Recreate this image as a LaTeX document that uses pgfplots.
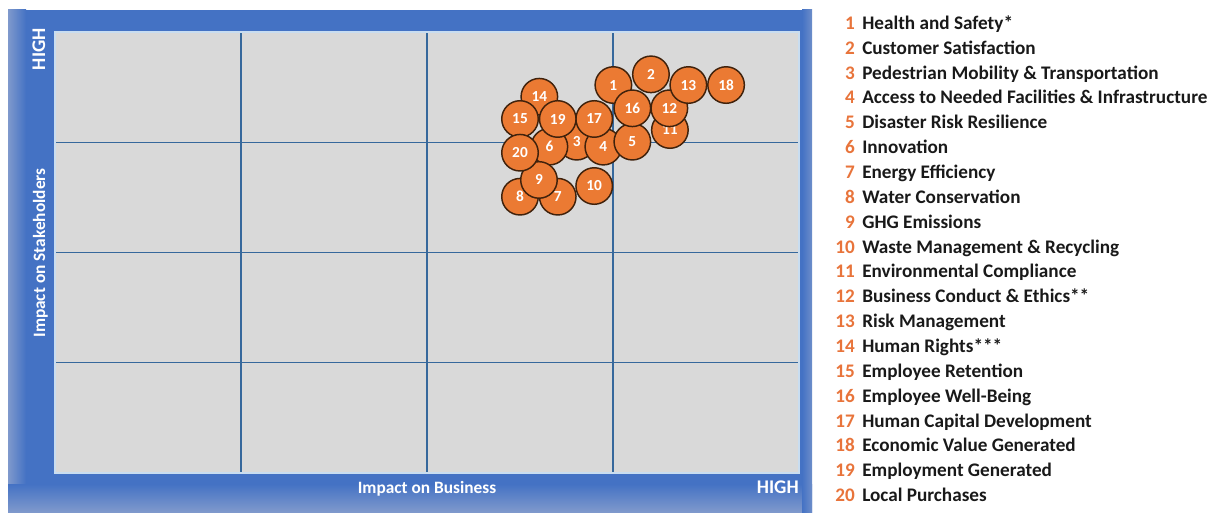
\documentclass[border=0pt]{standalone}
\usepackage{pgfplots}
\pgfplotsset{compat=1.18}
\usepackage{fontspec}
\setmainfont{Carlito}
\definecolor{frameblue}{HTML}{4472C4}
\definecolor{framelight}{HTML}{7F99CC}
\definecolor{plotgray}{HTML}{D9D9D9}
\definecolor{gridblue}{HTML}{36689C}
\definecolor{bubble}{HTML}{EB7A33}
\definecolor{bubbleedge}{HTML}{40220C}
\definecolor{numorange}{HTML}{E8743B}
\definecolor{edgelight}{HTML}{C9DDF0}

\pgfplotstableread{
x y label
3.002 3.519 1
3.204 3.616 2
2.805 3.005 3
2.948 2.960 4
3.104 3.005 5
2.658 2.960 6
2.703 2.506 7
2.500 2.506 8
2.602 2.658 9
2.899 2.603 10
3.306 3.111 11
3.303 3.308 12
3.405 3.519 13
2.604 3.413 14
2.500 3.211 15
3.104 3.308 16
2.899 3.211 17
3.608 3.519 18
2.703 3.211 19
2.500 2.905 20
}\bubbles

\begin{document}
\begin{tikzpicture}
\begin{scope}[x=0.75pt,y=-0.75pt]
\path (0,0) rectangle (1217,516);
\fill[frameblue] (8,10) rectangle (812,512);
\shade[left color=framelight, right color=frameblue] (8,10) rectangle (26,512);
\shade[bottom color=framelight, top color=frameblue] (8,484) rectangle (812,512);
\shade[right color=framelight!70!frameblue, left color=frameblue] (802,10) rectangle (812,512);
\node[rotate=90, anchor=base east, text=white, font=\bfseries\fontsize{14.5}{16}\selectfont, inner sep=0pt] at (45,28) {HIGH};
\node[rotate=90, anchor=base, text=white, font=\bfseries\fontsize{13}{15}\selectfont, inner sep=0pt] at (45,253) {Impact on Stakeholders};
\node[anchor=base, text=white, font=\bfseries\fontsize{13}{15}\selectfont, inner sep=0pt] at (427,493) {Impact on Business};
\node[anchor=base east, text=white, font=\bfseries\fontsize{14.5}{16}\selectfont, inner sep=0pt] at (799,493) {HIGH};
\foreach \t [count=\n] in {Health and Safety*, Customer Satisfaction, Pedestrian Mobility \& Transportation, Access to Needed Facilities \& Infrastructure, Disaster Risk Resilience, Innovation, Energy Efficiency, Water Conservation, GHG Emissions, Waste Management \& Recycling, Environmental Compliance, Business Conduct \& Ethics**, Risk Management, Human Rights***, Employee Retention, Employee Well-Being, Human Capital Development, Economic Value Generated, Employment Generated, Local Purchases}{
  \node[anchor=base east, text=numorange, font=\bfseries\fontsize{14.4}{16}\selectfont, inner sep=0pt] at (855,{29.3+24.86*(\n-1)}) {\n};
  \node[anchor=base west, text=black!90, font=\bfseries\fontsize{14.4}{16}\selectfont, inner sep=0pt] at (862,{29.3+24.86*(\n-1)}) {\t};
}
\end{scope}
\begin{axis}[at={(41.25pt,-354.75pt)}, anchor=south west, scale only axis,
  width=558pt, height=330.75pt,
  xmin=0, xmax=4, ymin=0, ymax=4,
  xtick={1,2,3}, ytick={1,2,3}, xticklabels={}, yticklabels={},
  major tick length=0pt, grid=major,
  grid style={gridblue, line width=1.1pt},
  axis line style={draw=edgelight, line width=1.2pt},
  axis background/.style={fill=plotgray},
  clip=false]
\addplot[only marks, mark=*, mark size=13.7pt,
  mark options={fill=bubble, draw=bubbleedge, line width=1.1pt},
  nodes near coords, point meta=explicit symbolic,
  nodes near coords style={anchor=center, inner sep=0pt, text=white, font=\bfseries\fontsize{11.5}{13}\selectfont}]
  table[x=x, y=y, meta=label] {\bubbles};
\end{axis}
\end{tikzpicture}
\end{document}
